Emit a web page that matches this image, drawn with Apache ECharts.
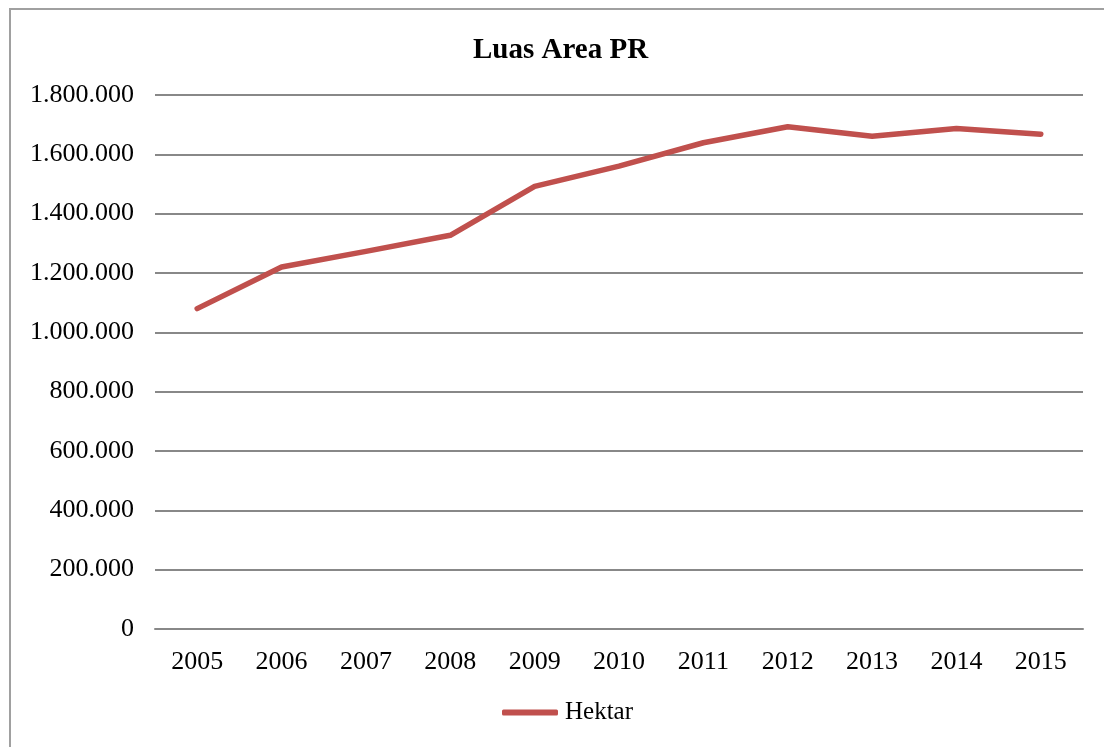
<!DOCTYPE html>
<html>
<head>
<meta charset="utf-8">
<script src="https://cdn.jsdelivr.net/npm/echarts@6/dist/echarts.min.js"></script>
<style>
  html, body { margin: 0; padding: 0; background: #fff; }
  #frame {
    position: absolute; left: 9px; top: 8px; width: 1110px; height: 760px;
    border: 2px solid #a0a0a0; box-sizing: border-box;
  }
  #chart { position: absolute; left: 0; top: 0; width: 1104px; height: 747px; }
</style>
</head>
<body>
<div id="frame"></div>
<div id="chart"></div>
<script>
// data
const years = ['2005', '2006', '2007', '2008', '2009', '2010', '2011', '2012', '2013', '2014', '2015']
const hektar = [1080000, 1220000, 1273000, 1327000, 1492000, 1560000, 1639000, 1693000, 1661000, 1687000, 1668000]
const yTicks = [0, 200000, 400000, 600000, 800000, 1000000, 1200000, 1400000, 1600000, 1800000]

const font = '"Liberation Serif", "Times New Roman", serif'
const lineColor = '#c0504d'

// 1800000 -> 1.800.000
function dotted (v) {
  return String(v).replace(/\B(?=(\d{3})+(?!\d))/g, '.')
}

const chart = echarts.init(document.getElementById('chart'))

const option = {
  animation: false,
  title: {
    text: 'Luas Area PR',
    left: 468,
    top: 31,
    textStyle: { fontFamily: font, fontSize: 29, fontWeight: 'bold', color: '#000' }
  },
  legend: {
    data: ['Hektar'],
    bottom: 17,
    left: 497,
    itemWidth: 56,
    itemHeight: 6,
    itemGap: 0,
    icon: 'roundRect',
    textStyle: { fontFamily: font, fontSize: 25, color: '#000', padding: [0, 0, 0, 2] }
  },
  grid: {
    left: 155,
    right: 21,
    top: 95,
    bottom: 118
  },
  xAxis: {
    type: 'category',
    data: years,
    boundaryGap: true,
    axisLine: { lineStyle: { color: '#888', width: 2 } },
    axisTick: { show: false },
    axisLabel: { fontFamily: font, fontSize: 26, color: '#000', margin: 20 }
  },
  yAxis: {
    type: 'value',
    min: yTicks[0],
    max: yTicks[yTicks.length - 1],
    interval: yTicks[1] - yTicks[0],
    axisLine: { show: false },
    axisTick: { show: false },
    axisLabel: {
      fontFamily: font, fontSize: 26, color: '#000', margin: 21,
      formatter: v => dotted(v)
    },
    splitLine: { lineStyle: { color: '#888', width: 2 } }
  },
  series: [
    {
      name: 'Hektar',
      type: 'line',
      data: hektar,
      symbol: 'none',
      lineStyle: { color: lineColor, width: 5.5, cap: 'round', join: 'round' },
      itemStyle: { color: lineColor }
    }
  ]
}

chart.setOption(option)
</script>
</body>
</html>
